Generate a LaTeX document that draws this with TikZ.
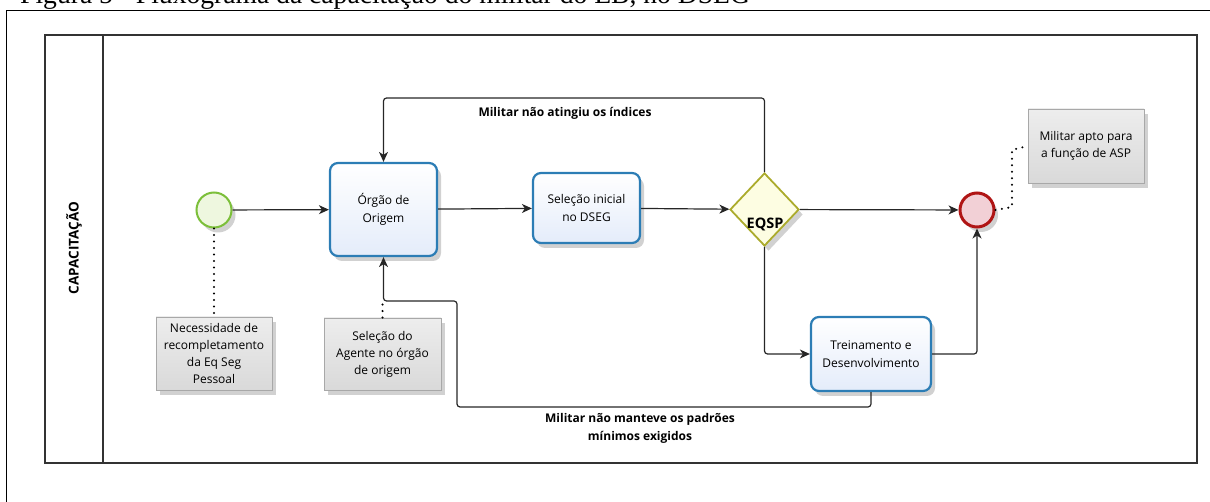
\documentclass[tikz,border=0pt]{standalone}
\usepackage{fontspec}
\setmainfont{Open Sans}
\newfontfamily\titlefont{Liberation Serif}
\usetikzlibrary{shapes.geometric,arrows.meta,shadows,calc}
\definecolor{taskb}{HTML}{2C7DB5}
\definecolor{taskf}{HTML}{E4ECFA}
\definecolor{startb}{HTML}{7CBF3A}
\definecolor{startf}{HTML}{EEF7DF}
\definecolor{endb}{HTML}{B01515}
\definecolor{endf}{HTML}{F2D0D6}
\definecolor{gwb}{HTML}{ABAB2C}
\definecolor{gwf}{HTML}{FDFDE2}
\definecolor{noteb}{HTML}{A8A8A8}
\definecolor{notef}{HTML}{D9D9D9}
\definecolor{poolc}{HTML}{333333}
\begin{document}
\begin{tikzpicture}[x=1pt,y=-1pt,
  shd/.style={drop shadow={shadow xshift=4pt,shadow yshift=-5pt,opacity=0.18,fill=black}},
  task/.style={shd,draw=taskb,line width=2.2pt,rounded corners=8pt,top color=white,bottom color=taskf,
    align=center,inner sep=1pt,font=\fontsize{12}{18}\selectfont},
  note/.style={shd,draw=noteb,line width=0.8pt,top color=white!93!black,bottom color=notef,
    align=center,inner sep=1pt,font=\fontsize{12}{17}\selectfont,minimum width=116pt,minimum height=73pt},
  evstart/.style={shd,circle,draw=startb,line width=2pt,fill=startf,minimum size=35pt,inner sep=0pt},
  evend/.style={shd,circle,draw=endb,line width=3pt,fill=endf,minimum size=34pt,inner sep=0pt},
  gw/.style={shd,diamond,draw=gwb,line width=1.8pt,fill=gwf,minimum width=69pt,minimum height=73pt,inner sep=0pt},
  flow/.style={draw=black!85,line width=1.2pt,rounded corners=3pt,-{Stealth[length=10pt,width=9pt,inset=3pt]}},
  assoc/.style={draw=black,line width=2.3pt,line cap=round,dash pattern=on 0pt off 6.5pt},
  lbl/.style={font=\bfseries\fontsize{12}{18}\selectfont,align=center},
]
\useasboundingbox (0,0) rectangle (1210,502);
% title and page frame
\node[anchor=base west,inner sep=0pt,font=\titlefont\fontsize{27.6}{30}\selectfont] (title) at (20,4) {Figura 5 - Fluxograma da capacitação do militar do EB, no DSEG};
\draw[line width=1pt] (6,502) -- (6,11) -- (1210,11);
% pool
\draw[poolc,line width=1.3pt] (45,35) rectangle (1197,463);
\draw[poolc,line width=1.3pt] (103,35) -- (103,463);
\node[rotate=90,font=\bfseries\fontsize{13.5}{16}\selectfont] (lane) at (74,248) {CAPACITAÇÃO};
% nodes
\node[evstart] (start) at (214,210) {};
\node[task,minimum width=107pt,minimum height=93pt] (org) at (383.5,209.5) {Órgão de\\Origem};
\node[task,minimum width=107pt,minimum height=70pt] (sel) at (586.5,208) {Seleção inicial\\no DSEG};
\node[gw] (gw) at (764.5,209.5) {};
\node[font=\bfseries\fontsize{14.5}{16}\selectfont,inner sep=0pt] (gwl) at (765,224) {EQSP};
\node[evend] (end) at (977,210) {};
\node[task,minimum width=120pt,minimum height=74pt] (trn) at (871,354) {Treinamento e\\Desenvolvimento};
\node[note] (n1) at (214,353.5) {Necessidade de\\recompletamento\\da Eq Seg\\Pessoal};
\node[note,minimum width=117pt,minimum height=72pt] (n2) at (382.5,354) {Seleção do\\Agente no órgão\\de origem};
\node[note,minimum height=74pt] (n3) at (1086,146) {Militar apto para\\a função de ASP};
% loop coordinates
\coordinate (t1) at (383.5,98);
\coordinate (b1) at (457,407);
\coordinate (b2) at (457,301);
\coordinate (a1) at (1012,207);
\coordinate (a2) at (1012,150);
% flows
\draw[flow] (start) -- (org);
\draw[flow] (org) -- (sel);
\draw[flow] (sel) -- (gw);
\draw[flow] (gw) -- (end);
\draw[flow] (gw.north) |- (t1) -- (org.north);
\draw[flow] (gw.south) |- (trn.west);
\draw[flow] (trn.east) -| (end.south);
\draw[flow] (trn.south) |- (b1) -- (b2) -| (org.south);
% labels
\node[lbl] (l1) at (565,113) {Militar não atingiu os índices};
\node[lbl] (l2) at (640,428) {Militar não manteve os padrões\\mínimos exigidos};
% associations
\draw[assoc] (start.south) -- (n1.north);
\draw[assoc] (n2.north) -- (n2.north |- b2);
\draw[assoc] (end.east) -- (a1) -- (a2) -- (n3.west);
\end{tikzpicture}
\end{document}
